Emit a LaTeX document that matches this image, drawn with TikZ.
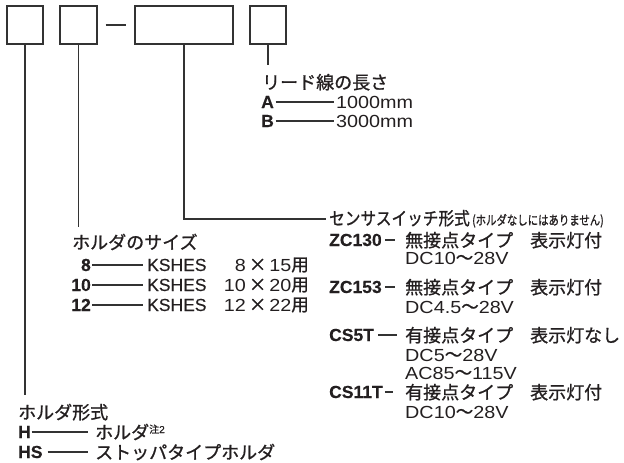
\documentclass[tikz,border=0pt]{standalone}
\usepackage{fontspec}
\usepackage{graphicx}
\setmainfont{Liberation Sans}[RawFeature={embolden=0.3}]
\newfontfamily\numf{Liberation Sans}[FakeStretch=1.13]
\newfontfamily\jp{Noto Sans CJK JP}[RawFeature={embolden=1.0}]
\definecolor{ink}{HTML}{231F20}
\definecolor{ln}{HTML}{333333}
\begin{document}
\begin{tikzpicture}[x=1pt,y=-1pt,
  box/.style={draw=ln, line width=1.1pt, inner sep=0pt, minimum height=38pt},
  lead/.style={draw=ln, line width=1.1pt},
  txt/.style={anchor=west, inner sep=0pt, text height=12pt, text depth=0pt, text=ink,
    font=\fontsize{17.5}{20}\selectfont},
  numt/.style={txt, font=\numf\fontsize{17.5}{20}\selectfont},
  jpt/.style={txt, font=\jp\fontsize{18}{20}\selectfont, yshift=-1pt},
  codet/.style={txt, font=\bfseries\fontsize{17.5}{20}\selectfont},
  rcode/.style={codet, anchor=east},
]
\useasboundingbox (0,0) rectangle (624,463);
% model code boxes
\node[box, minimum width=36pt] (b1) at (25,25) {};
\node[box, minimum width=37pt] (b2) at (78.5,25) {};
\node[box, minimum width=98pt] (b3) at (184,25) {};
\node[box, minimum width=36pt] (b4) at (268,25) {};
\draw[lead, shorten <=8pt, shorten >=8pt] (b2.east) -- (b3.west);

% lead wire length
\coordinate (e4) at (268,65);
\draw[lead] (b4.south) -- (e4);
\node[jpt] (lt) at (262,82) {リード線の長さ};
\node[codet] (cA) at (261,102) {A};
\node[numt] (len1) at (336,102) {1000mm};
\node[codet] (cB) at (261,121) {B};
\node[numt] (len2) at (336,121) {3000mm};
\draw[lead, shorten <=1.5pt, shorten >=2.5pt] (cA.east) -- (len1.west);
\draw[lead, shorten <=1.5pt, shorten >=2.5pt] (cB.east) -- (len2.west);

% sensor switch type
\node[jpt] (st) at (329,218) {\scalebox{0.87}[1]{センサスイッチ形式}};
\node[txt, anchor=west] (sn) at (472,219) {\scalebox{0.8}[1]{\jp\fontsize{13}{13}\selectfont (ホルダなしにはありません)}};
\draw[lead, shorten >=3pt] (b3.south) |- (st.west);

\node[codet] (z1) at (329,240) {ZC130};
\node[jpt] (z1t) at (405,240) {無接点タイプ};
\node[jpt] (z1l) at (530,240) {表示灯付};
\node[numt] (z1v) at (405,258) {DC10{\jp ～}28V};
\draw[lead, shorten <=3pt, shorten >=10pt] (z1.east) -- (z1.east -| z1t.west);

\node[codet] (z2) at (329,287) {ZC153};
\node[jpt] (z2t) at (405,287) {無接点タイプ};
\node[jpt] (z2l) at (530,287) {表示灯付};
\node[numt] (z2v) at (405,307) {DC4.5{\jp ～}28V};
\draw[lead, shorten <=3pt, shorten >=10pt] (z2.east) -- (z2.east -| z2t.west);

\node[codet] (c5) at (329,335) {CS5T};
\node[jpt] (c5t) at (405,335) {有接点タイプ};
\node[jpt] (c5l) at (530,335) {表示灯なし};
\node[numt] (c5v) at (405,355) {DC5{\jp ～}28V};
\node[numt] (c5w) at (405,373) {AC85{\jp ～}115V};
\draw[lead, shorten <=4pt, shorten >=8pt] (c5.east) -- (c5.east -| c5t.west);

\node[codet] (c11) at (329,392) {CS11T};
\node[jpt] (c11t) at (405,392) {有接点タイプ};
\node[jpt] (c11l) at (530,392) {表示灯付};
\node[numt] (c11v) at (405,412) {DC10{\jp ～}28V};
\draw[lead, shorten <=2pt, shorten >=12pt] (c11.east) -- (c11.east -| c11t.west);

% holder size
\coordinate (e2) at (78.5,227);
\draw[lead] (b2.south) -- (e2);
\node[jpt] (hs) at (72,242) {ホルダのサイズ};
\node[rcode] (s8) at (91,265) {8};
\node[rcode] (s10) at (91,285) {10};
\node[rcode] (s12) at (91,305) {12};
\node[txt] (k8) at (147,265) {KSHES};
\node[txt] (k10) at (147,285) {KSHES};
\node[txt] (k12) at (147,305) {KSHES};
\node[numt, anchor=east] (d8) at (309,265) {8{\jp\,×\,}15{\jp 用}};
\node[numt, anchor=east] (d10) at (309,285) {10{\jp\,×\,}20{\jp 用}};
\node[numt, anchor=east] (d12) at (309,305) {12{\jp\,×\,}22{\jp 用}};
\draw[lead, shorten <=1pt, shorten >=4pt] (s8.east) -- (k8.west);
\draw[lead, shorten <=1pt, shorten >=4pt] (s10.east) -- (k10.west);
\draw[lead, shorten <=1pt, shorten >=4pt] (s12.east) -- (k12.west);

% holder type
\coordinate (e1) at (25,395);
\draw[lead] (b1.south) -- (e1);
\node[jpt] (ht) at (18,412) {ホルダ形式};
\node[codet] (hH) at (18,432) {H};
\node[codet] (hHS) at (18,452) {HS};
\node[jpt] (hHt) at (95,432) {ホルダ\raisebox{6pt}{\fontsize{10}{10}\selectfont 注\rmfamily 2}};
\node[jpt] (hHSt) at (95,452) {ストッパタイプホルダ};
\draw[lead, shorten <=0.5pt, shorten >=7pt] (hH.east) -- (hH.east -| hHt.west);
\draw[lead, shorten <=5pt, shorten >=7pt] (hHS.east) -- (hHS.east -| hHSt.west);
\end{tikzpicture}
\end{document}
